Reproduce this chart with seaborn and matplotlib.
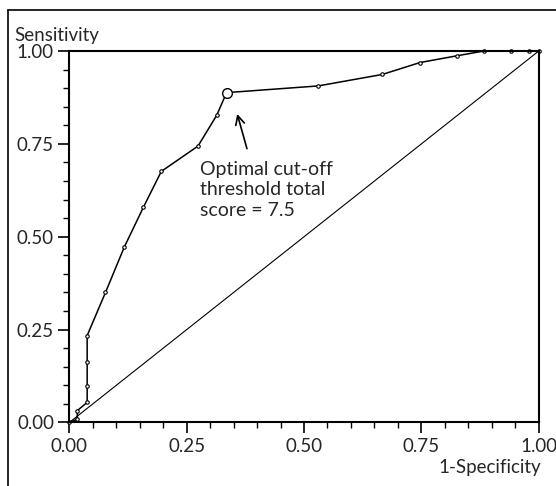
import matplotlib
matplotlib.use("Agg")
import matplotlib.pyplot as plt
import seaborn as sns
from matplotlib.lines import Line2D
from matplotlib.ticker import MultipleLocator

# ROC points
fpr = [0.0, 0.017, 0.017, 0.038, 0.038, 0.038, 0.038, 0.077, 0.117, 0.158,
       0.196, 0.274, 0.314, 0.335, 0.530, 0.667, 0.747, 0.825, 0.883, 0.942,
       0.980, 1.0]
tpr = [0.0, 0.009, 0.032, 0.054, 0.099, 0.162, 0.234, 0.350, 0.472, 0.580,
       0.676, 0.744, 0.827, 0.888, 0.906, 0.937, 0.969, 0.987, 1.0, 1.0,
       1.0, 1.0]
optimal = (0.335, 0.888)
ref_line = [0.0, 1.0]
ticks = [0.0, 0.25, 0.5, 0.75, 1.0]
tick_labels = ["0.00", "0.25", "0.50", "0.75", "1.00"]

sns.set_style("ticks")
plt.rcParams['font.family'] = ['Lato', 'DejaVu Sans']

fig = plt.figure(figsize=(5.56, 4.86), dpi=100)
ax = fig.add_axes([0.1247, 0.1307, 0.8442, 0.7643])

sns.lineplot(x=ref_line, y=ref_line, ax=ax, color="black", linewidth=0.8)
sns.lineplot(x=fpr, y=tpr, sort=False, estimator=None, ax=ax, color="black",
             linewidth=1.1, marker="o", markersize=2.5, markerfacecolor="white",
             markeredgecolor="black", markeredgewidth=0.8, clip_on=False)
ax.plot(*optimal, marker="o", markersize=7, markerfacecolor="white",
        markeredgecolor="black", markeredgewidth=1.0, clip_on=False)

ax.set_xlim(0, 1)
ax.set_ylim(0, 1)
ax.set_xticks(ticks)
ax.set_xticklabels(tick_labels)
ax.set_yticks(ticks)
ax.set_yticklabels(tick_labels)
ax.xaxis.set_minor_locator(MultipleLocator(0.05))
ax.yaxis.set_minor_locator(MultipleLocator(0.05))
ax.tick_params(which="major", length=8, width=1.2, labelsize=13.5, pad=3, color="black")
ax.tick_params(which="minor", length=4, width=1.0, color="black")
for s in ax.spines.values():
    s.set_linewidth(1.5)
    s.set_color("black")
ax.set_xlabel("")
ax.set_ylabel("")

fig.text(14 / 556, 1 - 35 / 486, "Sensitivity", fontsize=13.5, va="center", ha="left")
fig.text(541 / 556, 1 - 468 / 486, "1-Specificity", fontsize=13.5, va="center", ha="right")

ax.annotate("", xy=(0.356, 0.838), xytext=(0.380, 0.730),
            arrowprops=dict(arrowstyle="->", color="black", lw=1.2,
                            mutation_scale=16))
ax.text(0.278, 0.705, "Optimal cut-off\nthreshold total\nscore = 7.5",
        fontsize=14, ha="left", va="top", linespacing=1.25)

# outer frame (only top and left edges visible)
fig.add_artist(Line2D([8 / 556, 1.0], [1 - 10 / 486, 1 - 10 / 486],
                      color="black", linewidth=1.2, transform=fig.transFigure))
fig.add_artist(Line2D([8 / 556, 8 / 556], [1 - 10 / 486, 0.0],
                      color="black", linewidth=1.2, transform=fig.transFigure))

fig.savefig("out.png", dpi=100)
